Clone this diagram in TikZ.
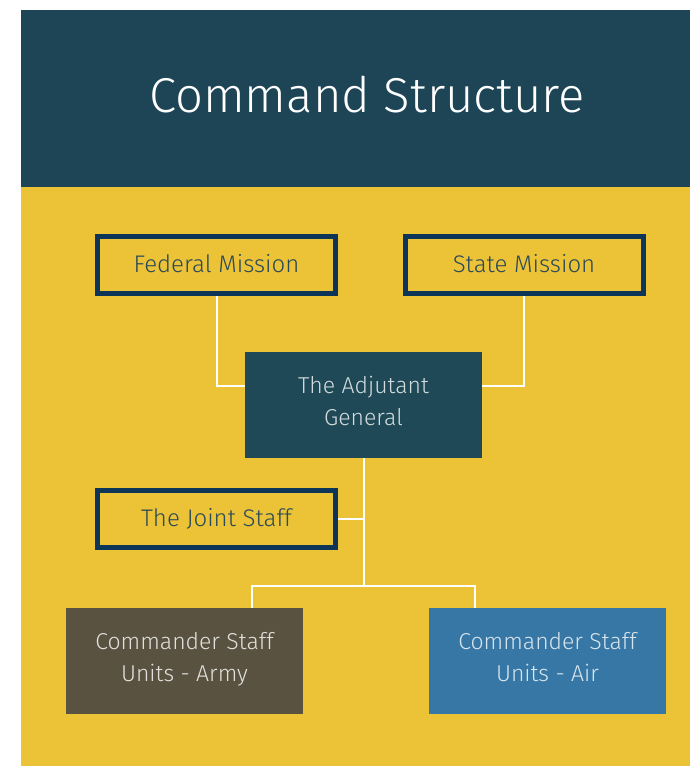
\documentclass[tikz,border=0pt]{standalone}
\usepackage{fontspec}
\setmainfont{Fira Sans}[UprightFont=* Light]
\usetikzlibrary{positioning}
\definecolor{headblue}{HTML}{1D4556}
\definecolor{mustard}{HTML}{ECC337}
\definecolor{navyline}{HTML}{0D3558}
\definecolor{slatetext}{HTML}{2A4A58}
\definecolor{agblue}{HTML}{1F4957}
\definecolor{armybrown}{HTML}{5A5240}
\definecolor{airblue}{HTML}{3677A5}
\newcommand{\lineup}{\rule{0pt}{22pt}}
\newcommand{\linedown}{\rule[-13pt]{0pt}{13pt}}
\tikzset{
    mission/.style={draw=navyline,line width=5pt,fill=mustard,text=slatetext,
        minimum width=238pt,minimum height=57pt,inner sep=0pt,
        text height=15pt,text depth=0pt,
        font=\fontsize{24}{28}\selectfont},
    unit/.style={minimum width=237pt,minimum height=106pt,inner sep=0pt,align=center,
        font=\fontsize{23}{32}\selectfont},
    link/.style={draw=white,line width=2pt},
}
\begin{document}
\begin{tikzpicture}[x=1pt,y=-1pt]
\useasboundingbox (0,0) rectangle (690,766);
\fill[headblue] (21,10) rectangle (690,187);
\fill[mustard] (21,187) rectangle (690,766);
\node[anchor=base,text=white,font=\fontsize{49}{58}\selectfont] (title) at (367,112) {Command Structure};
% top row
\node[mission] (fed) at (216.5,265) {Federal Mission};
\node[mission] (state) at (524,265) {State Mission};
\node[unit,fill=agblue,text=white!80!agblue] (tag) at (363.5,405) {\lineup The Adjutant\\General\linedown};
\node[mission] (joint) at (216.5,518.5) {The Joint Staff};
% bottom row
\node[unit,fill=armybrown,text=white!82!armybrown] (army) at (184.5,661) {\lineup Commander Staff\\Units - Army\linedown};
\node[unit,fill=airblue,text=white!80!airblue] (air) at (547.5,661) {\lineup Commander Staff\\Units - Air\linedown};
\coordinate (split) at (363.5,586);
\draw[link] (fed.south) |- (tag.west |- 0,386);
\draw[link] (state.south) |- (tag.east |- 0,386);
\draw[link] (tag.south) -- (split);
\draw[link] (joint.east) -- (joint.east -| split);
\draw[link] (army.north -| 252,0) |- (split) -| (air.north -| 475,0);
\end{tikzpicture}
\end{document}
